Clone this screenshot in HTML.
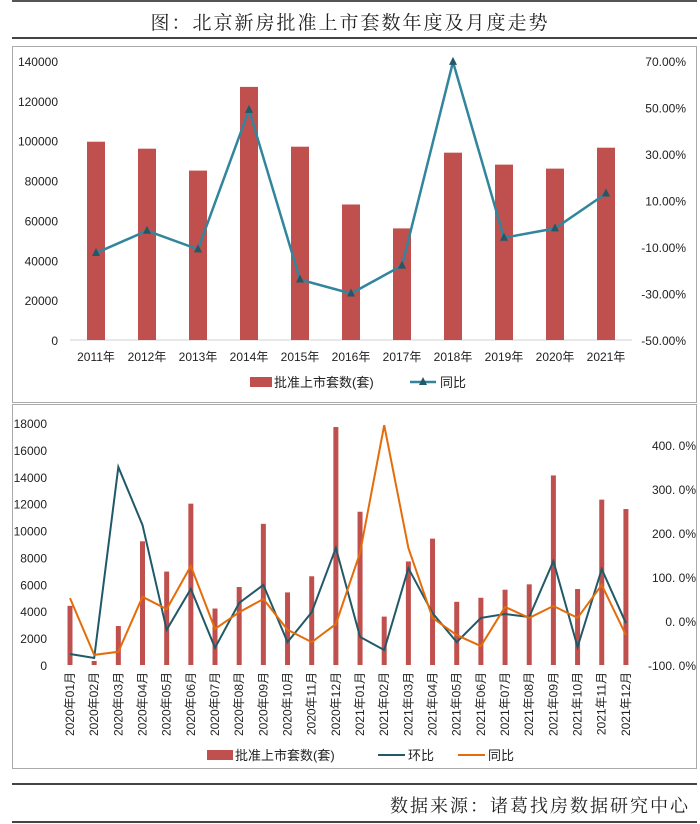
<!DOCTYPE html>
<html><head><meta charset="utf-8"><style>
body{margin:0;background:#fff;}
svg{display:block;font-family:"Liberation Sans","Noto Sans CJK SC",sans-serif;}
.serif{font-family:"Liberation Serif","Noto Serif CJK SC",serif;}
</style></head><body>
<svg id="s" width="700" height="824" viewBox="0 0 700 824" xmlns="http://www.w3.org/2000/svg">
<line x1="12" y1="1" x2="697" y2="1" stroke="#555" stroke-width="2"/>
<text class="serif" x="350" y="29" text-anchor="middle" font-size="19" fill="#222" letter-spacing="2">图：北京新房批准上市套数年度及月度走势</text>
<line x1="12" y1="38" x2="697" y2="38" stroke="#444" stroke-width="2"/>
<rect x="12.5" y="46.5" width="684" height="356" fill="#fff" stroke="#aaa"/>
<rect x="12.5" y="404.5" width="684" height="364" fill="#fff" stroke="#aaa"/>
<g id="top"></g>
<g id="bot"></g>
<line x1="12" y1="784" x2="697" y2="784" stroke="#444" stroke-width="2"/>
<text class="serif" x="690" y="812" text-anchor="end" font-size="18" fill="#222" letter-spacing="2">数据来源：诸葛找房数据研究中心</text>
<line x1="12" y1="822" x2="697" y2="822" stroke="#444" stroke-width="2"/>
</svg>
<script>
const years=["2011年","2012年","2013年","2014年","2015年","2016年","2017年","2018年","2019年","2020年","2021年"];
const annualCount=[99500,96000,85000,127000,97000,68000,56000,94000,88000,86000,96500];
const annualYoY=[-12.6,-3,-11,49,-24,-30,-18,69.6,-6,-2,13];
const annualLeftTicks=[0,20000,40000,60000,80000,100000,120000,140000];
const annualRightTicks=[-50,-30,-10,10,30,50,70];
const months=["2020年01月","2020年02月","2020年03月","2020年04月","2020年05月","2020年06月","2020年07月","2020年08月","2020年09月","2020年10月","2020年11月","2020年12月","2021年01月","2021年02月","2021年03月","2021年04月","2021年05月","2021年06月","2021年07月","2021年08月","2021年09月","2021年10月","2021年11月","2021年12月"];
const monthCount=[4400,300,2900,9200,6950,12000,4200,5800,10500,5400,6600,17700,11400,3600,7700,9400,4700,5000,5600,6000,14100,5650,12300,11600];
const monthMoM=[-75,-84,350,218,-20,73,-61,41,82,-48,20,166,-36,-66,120,18,-48,7,16,9,136,-59,118,-5];
const monthYoY=[52,-77,-70,55,27,125,-18,20,50,-20,-48,-7,155,445,166,7,-32,-57,32,7,34,7,82,-32];
const monthLeftTicks=[0,2000,4000,6000,8000,10000,12000,14000,16000,18000];
const monthRightTicks=[-100,0,100,200,300,400];
const NS="http://www.w3.org/2000/svg";
function mk(p,t,a){const e=document.createElementNS(NS,t);for(const k in a)e.setAttribute(k,a[k]);p.appendChild(e);return e;}
// annual chart
const T=document.getElementById('top');
const tx=i=>96+i*51, ty=v=>340-v/140000*279, tr=v=>340-(v+50)/120*279;
annualLeftTicks.forEach(v=>{const t=mk(T,'text',{x:58,y:ty(v)+5,'text-anchor':'end','font-size':12,fill:'#222'});t.textContent=v;

});
annualRightTicks.forEach(v=>{const t=mk(T,'text',{x:686,y:tr(v)+5,'text-anchor':'end','font-size':12,fill:'#222'});t.textContent=v.toFixed(2)+'%';

});
const ax=mk(T,'line',{x1:70,y1:340,x2:632,y2:340,stroke:'#d0d0d0'});


annualCount.forEach((v,i)=>{const r=mk(T,'rect',{x:tx(i)-9,y:ty(v),width:18,height:340-ty(v),fill:'#c0504d'});


const t=mk(T,'text',{x:tx(i),y:361,'text-anchor':'middle','font-size':12,fill:'#222'});t.textContent=years[i];

});
const pl=mk(T,'polyline',{points:annualYoY.map((v,i)=>tx(i)+','+tr(v)).join(' '),fill:'none',stroke:'#31859c','stroke-width':2.5});


annualYoY.forEach((v,i)=>{const x=tx(i),y=tr(v);const m=mk(T,'polygon',{points:`${x},${y-5} ${x-4},${y+3} ${x+4},${y+3}`,fill:'#215968'});

});
let lg=mk(T,'rect',{x:250,y:377,width:22,height:10,fill:'#c0504d'});


let lt=mk(T,'text',{x:274,y:387,'font-size':13,fill:'#222'});lt.textContent='批准上市套数(套)';


lg=mk(T,'line',{x1:410,y1:382,x2:436,y2:382,stroke:'#31859c','stroke-width':2.5});


lg=mk(T,'polygon',{points:'423,377 419,385 427,385',fill:'#215968'});


lt=mk(T,'text',{x:440,y:387,'font-size':13,fill:'#222'});lt.textContent='同比';


// monthly chart
const B=document.getElementById('bot');
const bx=i=>70+i*24.17, by=v=>665-v/18000*242, br=v=>621-v*0.44;
monthLeftTicks.forEach(v=>{const t=mk(B,'text',{x:47,y:by(v)+5,'text-anchor':'end','font-size':12,fill:'#222'});t.textContent=v;

});
monthRightTicks.forEach(v=>{const t=mk(B,'text',{x:696,y:br(v)+5,'text-anchor':'end','font-size':12,fill:'#222'});t.textContent=v.toFixed(1).replace('.', '. ')+'%';

});
monthCount.forEach((v,i)=>{const r=mk(B,'rect',{x:bx(i)-2.5,y:by(v),width:5,height:665-by(v),fill:'#c0504d'});


const t=mk(B,'text',{x:0,y:0,'text-anchor':'end','font-size':12,fill:'#222',transform:`translate(${bx(i)+4},672) rotate(-90)`});t.textContent=months[i];

});
let l1=mk(B,'polyline',{points:monthMoM.map((v,i)=>bx(i)+','+br(v)).join(' '),fill:'none',stroke:'#215968','stroke-width':2});


let l2=mk(B,'polyline',{points:monthYoY.map((v,i)=>bx(i)+','+br(v)).join(' '),fill:'none',stroke:'#e46c0a','stroke-width':2});


lg=mk(B,'rect',{x:207,y:750,width:26,height:10,fill:'#c0504d'});


lt=mk(B,'text',{x:235,y:760,'font-size':13,fill:'#222'});lt.textContent='批准上市套数(套)';


lg=mk(B,'line',{x1:378,y1:755,x2:405,y2:755,stroke:'#215968','stroke-width':2});


lt=mk(B,'text',{x:408,y:760,'font-size':13,fill:'#222'});lt.textContent='环比';


lg=mk(B,'line',{x1:458,y1:755,x2:485,y2:755,stroke:'#e46c0a','stroke-width':2});


lt=mk(B,'text',{x:488,y:760,'font-size':13,fill:'#222'});lt.textContent='同比';


</script>
</body></html>
